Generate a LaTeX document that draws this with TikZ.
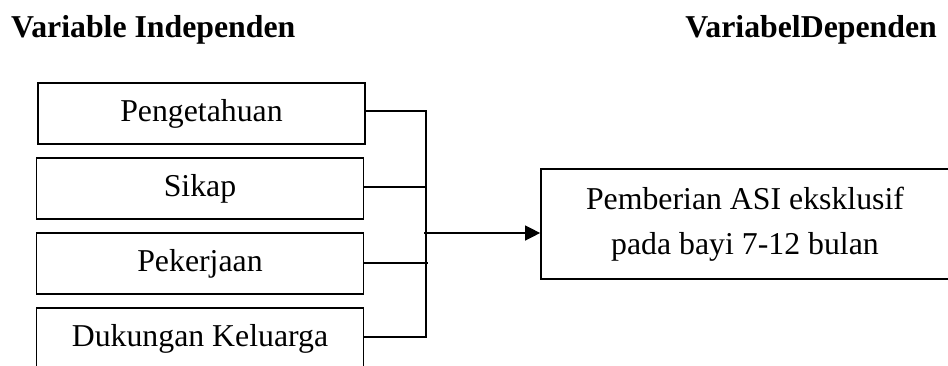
\documentclass[tikz,border=0pt]{standalone}
\usepackage{fontspec}
\setmainfont{Liberation Serif}
\usetikzlibrary{arrows.meta}
\begin{document}
\begin{tikzpicture}[x=1pt,y=-1pt,
  every node/.style={font=\fontsize{31.8}{45}\selectfont, inner sep=0pt},
  varbox/.style={draw, line width=1.7pt, minimum width=327pt, minimum height=61pt, align=center},
  head/.style={font=\fontsize{31.8}{45}\selectfont\bfseries},
  conn/.style={line width=1.4pt}]
\useasboundingbox (0,0) rectangle (948,365);
\node[head, anchor=base west] (h1) at (11,37) {Variable Independen};
\node[head, anchor=base east] (h2) at (937,37) {VariabelDependen};
\node[varbox] (b1) at (201.5,113.5) {Pengetahuan};
\node[varbox] (b2) at (200,188.5) {Sikap};
\node[varbox] (b3) at (200,263.5) {Pekerjaan};
\node[varbox] (b4) at (200,338.5) {Dukungan Keluarga};
\node[draw, line width=1.7pt, minimum width=408pt, minimum height=110pt, align=center] (b5) at (745,224) {Pemberian ASI eksklusif\\pada bayi 7-12 bulan};
\coordinate (j1) at (426,111);
\coordinate (j2) at (426,187);
\coordinate (j3) at (428,263);
\coordinate (j4) at (426,337);
\coordinate (ja) at (424,233);
\draw[conn] (b1.east |- j1) -- (j1) -- (j4) -- (b4.east |- j4);
\draw[conn] (b2.east |- j2) -- (j2);
\draw[conn] (b3.east |- j3) -- (j3);
\draw[conn, -{Triangle[length=15pt,width=15pt]}] (ja) -- (b5.west |- ja);
\end{tikzpicture}
\end{document}
